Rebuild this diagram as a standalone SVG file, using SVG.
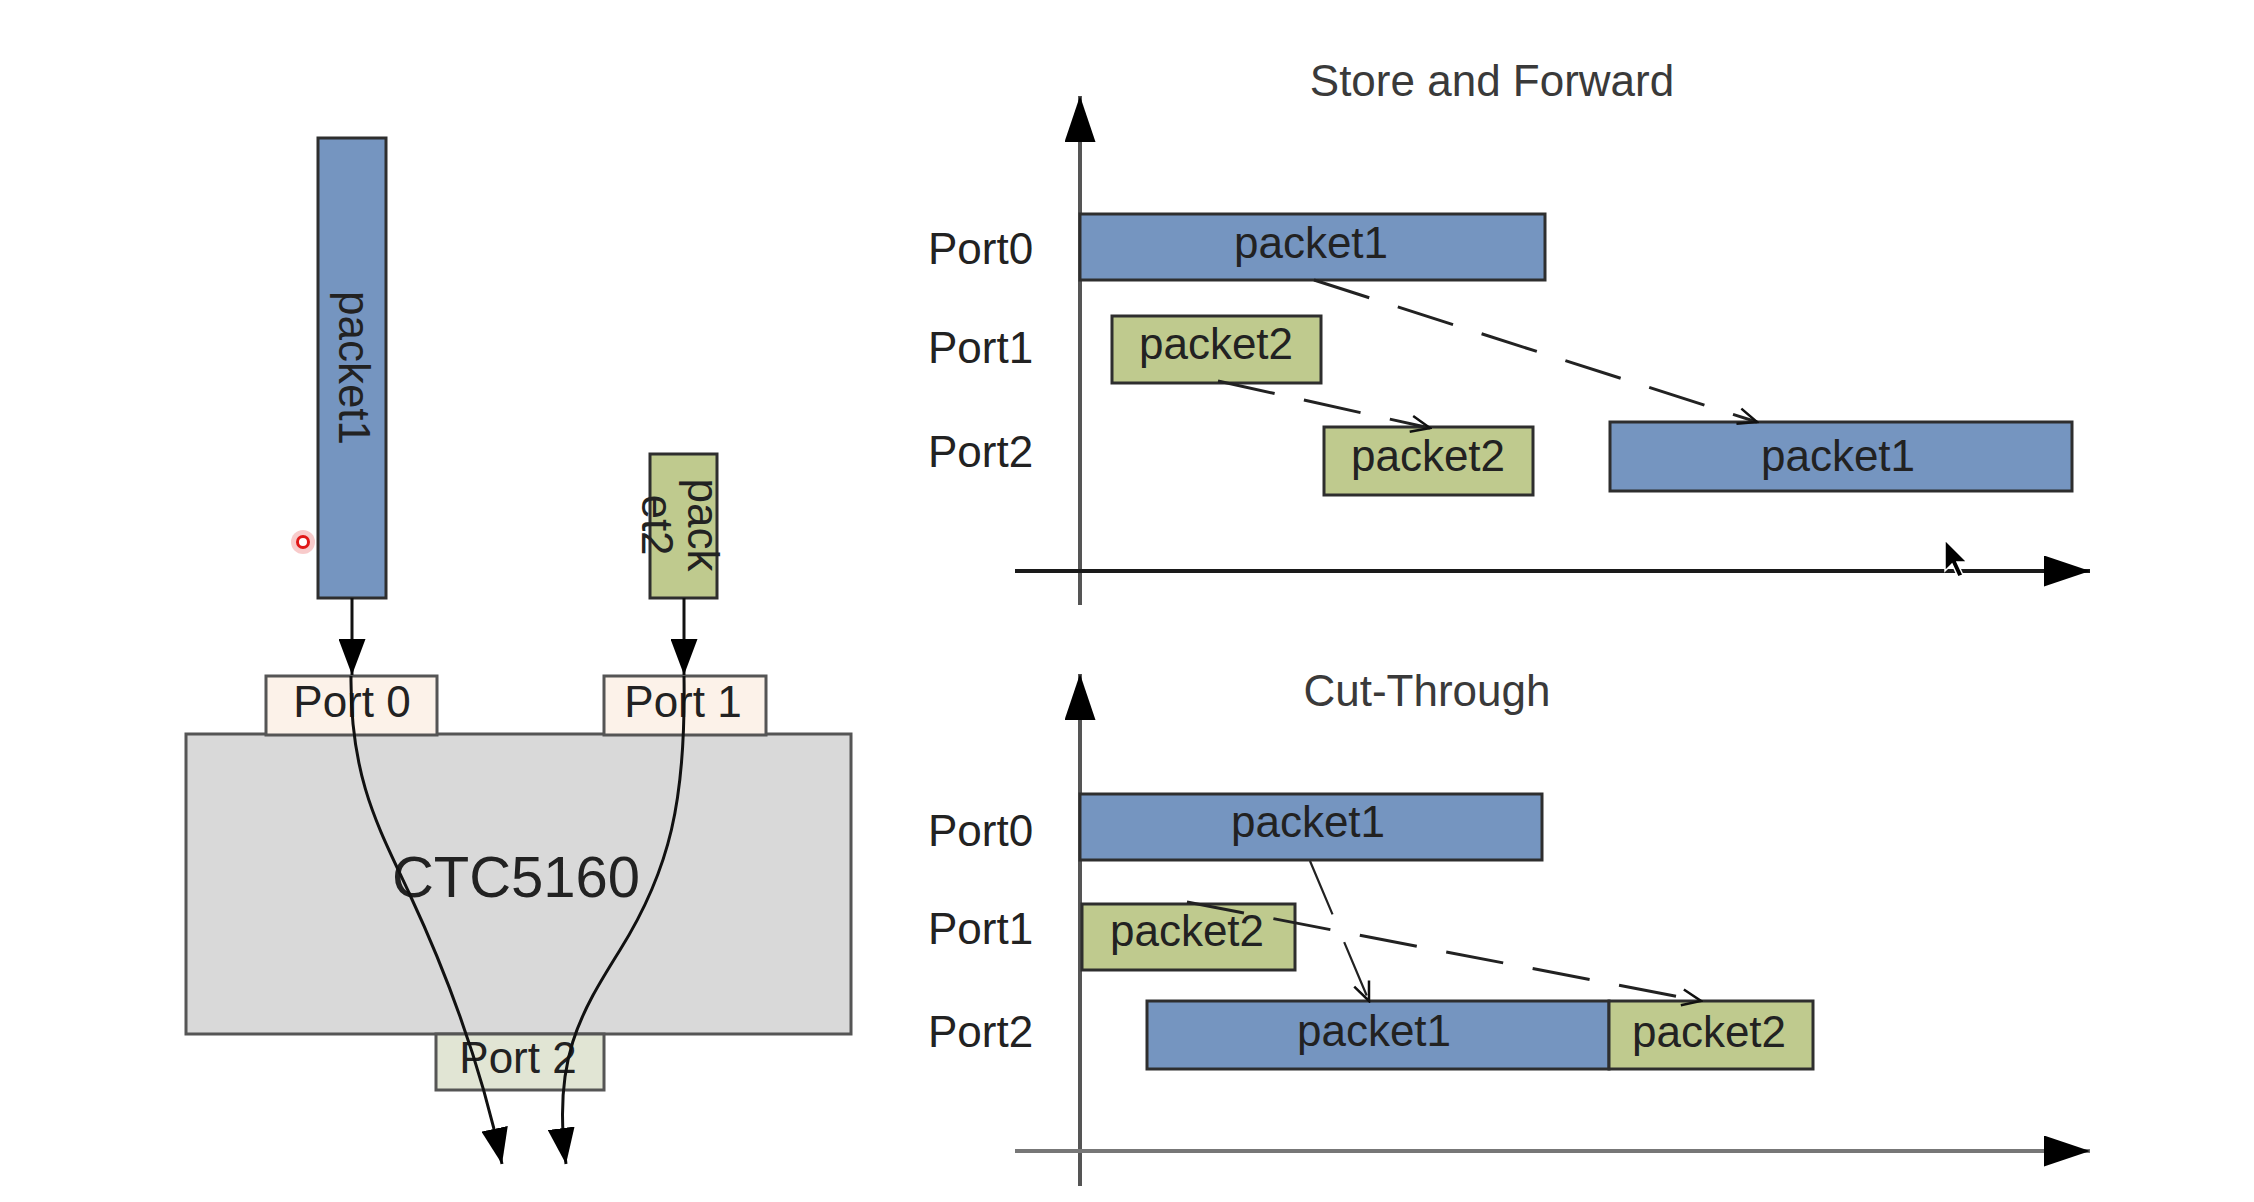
<svg xmlns="http://www.w3.org/2000/svg" width="2254" height="1202" viewBox="0 0 2254 1202">
<defs>
<style>
.t{font-family:"Liberation Sans",Arial,Helvetica,sans-serif;font-size:44px;fill:#222}
.mid{text-anchor:middle}
.ttl{fill:#3a3a3a}
.blue{fill:#7595c0;stroke:#2e2e2e;stroke-width:3}
.green{fill:#bfca8e;stroke:#2e2e2e;stroke-width:3}
.port{fill:#fcf2e9;stroke:#555;stroke-width:3}
.port2{fill:#e1e5d4;stroke:#555;stroke-width:3}
.chip{fill:#d9d9d9;stroke:#555;stroke-width:3}
.conn{fill:none;stroke:#111;stroke-width:3}
.dash{fill:none;stroke:#222;stroke-width:3;stroke-dasharray:58 30}
.thin{fill:none;stroke:#222;stroke-width:2.2;stroke-dasharray:58 30}
.axis{fill:none;stroke-width:4}
</style>
<marker id="ah" markerUnits="userSpaceOnUse" viewBox="0 0 36 27" refX="36" refY="13.5" markerWidth="36" markerHeight="27" orient="auto">
<path d="M0,0 L36,13.5 L0,27 z" fill="#000"/>
</marker>
<marker id="ax" markerUnits="userSpaceOnUse" viewBox="0 0 46 31" refX="46" refY="15.5" markerWidth="46" markerHeight="31" orient="auto">
<path d="M0,0 L46,15.5 L0,31 z" fill="#000"/>
</marker>
<marker id="open" markerUnits="userSpaceOnUse" viewBox="-2 -2 24 20" refX="20" refY="8" markerWidth="24" markerHeight="20" orient="auto">
<path d="M1,0 L20,8 L1,16" fill="none" stroke="#111" stroke-width="2.5" stroke-dasharray="none"/>
</marker>
</defs>
<rect width="2254" height="1202" fill="#fff"/>

<!-- Left: switch -->
<g id="chip">
<rect class="chip" x="186" y="734" width="665" height="300"/>
<text class="t mid" x="516" y="897" style="font-size:58px">CTC5160</text>
</g>
<g id="port0">
<rect class="port" x="266" y="676" width="171" height="59"/>
<text class="t mid" x="352" y="717">Port 0</text>
</g>
<g id="port1">
<rect class="port" x="604" y="676" width="162" height="59"/>
<text class="t mid" x="683" y="717">Port 1</text>
</g>
<g id="port2">
<rect class="port2" x="436" y="1034" width="168" height="56"/>
<text class="t mid" x="518" y="1073">Port 2</text>
</g>
<g id="packet1-in">
<rect class="blue" x="318" y="138" width="68" height="460"/>
<text class="t mid" transform="translate(351,368) rotate(90)" x="0" y="12">packet1</text>
</g>
<g id="packet2-in">
<rect class="green" x="650" y="454" width="67" height="144"/>
<text class="t mid" transform="translate(684,525) rotate(90)" x="0" y="-4">pack</text>
<text class="t mid" transform="translate(684,525) rotate(90)" x="0" y="42">et2</text>
</g>
<g id="pointer-dot">
<circle cx="303" cy="542" r="12" fill="#f4a8a8" opacity="0.6"/>
<circle cx="303" cy="542" r="5.5" fill="#fff" stroke="#e01818" stroke-width="3"/>
</g>

<!-- Store and Forward chart -->
<g id="sf-title"><text class="t ttl mid" x="1492" y="96">Store and Forward</text></g>
<g id="sf-axes">
<line class="axis" x1="1080" y1="605" x2="1080" y2="96" stroke="#555" marker-end="url(#ax)"/>
<line class="axis" x1="1015" y1="571" x2="2090" y2="571" stroke="#1a1a1a" marker-end="url(#ax)"/>
</g>
<g id="sf-labels">
<text class="t" x="928" y="264">Port0</text>
<text class="t" x="928" y="363">Port1</text>
<text class="t" x="928" y="467">Port2</text>
</g>
<g id="sf-p1-port0"><rect class="blue" x="1080" y="214" width="465" height="66"/><text class="t mid" x="1311" y="258">packet1</text></g>
<g id="sf-p2-port1"><rect class="green" x="1112" y="316" width="209" height="67"/><text class="t mid" x="1216" y="359">packet2</text></g>
<g id="sf-p2-port2"><rect class="green" x="1324" y="427" width="209" height="68"/><text class="t mid" x="1428" y="471">packet2</text></g>
<g id="sf-p1-port2"><rect class="blue" x="1610" y="422" width="462" height="69"/><text class="t mid" x="1838" y="471">packet1</text></g>

<!-- Cut-Through chart -->
<g id="ct-title"><text class="t ttl mid" x="1427" y="706">Cut-Through</text></g>
<g id="ct-axes">
<line class="axis" x1="1080" y1="1186" x2="1080" y2="674" stroke="#555" marker-end="url(#ax)"/>
<line class="axis" x1="1015" y1="1151" x2="2090" y2="1151" stroke="#777" marker-end="url(#ax)"/>
</g>
<g id="ct-labels">
<text class="t" x="928" y="846">Port0</text>
<text class="t" x="928" y="944">Port1</text>
<text class="t" x="928" y="1047">Port2</text>
</g>
<g id="ct-p1-port0"><rect class="blue" x="1080" y="794" width="462" height="66"/><text class="t mid" x="1308" y="837">packet1</text></g>
<g id="ct-p2-port1"><rect class="green" x="1082" y="904" width="213" height="66"/><text class="t mid" x="1187" y="946">packet2</text></g>
<g id="ct-p1-port2"><rect class="blue" x="1147" y="1001" width="462" height="68"/><text class="t mid" x="1374" y="1046">packet1</text></g>
<g id="ct-p2-port2"><rect class="green" x="1609" y="1001" width="204" height="68"/><text class="t mid" x="1709" y="1047">packet2</text></g>

<!-- cursor -->
<g id="cursor">
<path d="M1945,540 L1945,571 L1952,564 L1958,577 L1963,575 L1957,562 L1967,562 z" fill="#000" stroke="#fff" stroke-width="1.5"/>
</g>

<!-- connectors -->
<g id="connectors">
<line class="conn" x1="352" y1="598" x2="352" y2="675" marker-end="url(#ah)"/>
<line class="conn" x1="684" y1="598" x2="684" y2="675" marker-end="url(#ah)"/>
<path class="conn" d="M351,676 C350,780 380,830 410,895 C445,970 480,1060 502,1164" marker-end="url(#ah)"/>
<path class="conn" d="M684,676 C686,800 670,870 620,950 C580,1014 552,1060 566,1164" marker-end="url(#ah)"/>
<line class="dash" x1="1314" y1="280" x2="1757" y2="422" marker-end="url(#open)"/>
<line class="dash" x1="1218" y1="381" x2="1430" y2="428" marker-end="url(#open)"/>
<line class="thin" x1="1310" y1="861" x2="1369" y2="1001" marker-end="url(#open)"/>
<line class="dash" x1="1187" y1="902" x2="1701" y2="1001" marker-end="url(#open)"/>
</g>
</svg>
